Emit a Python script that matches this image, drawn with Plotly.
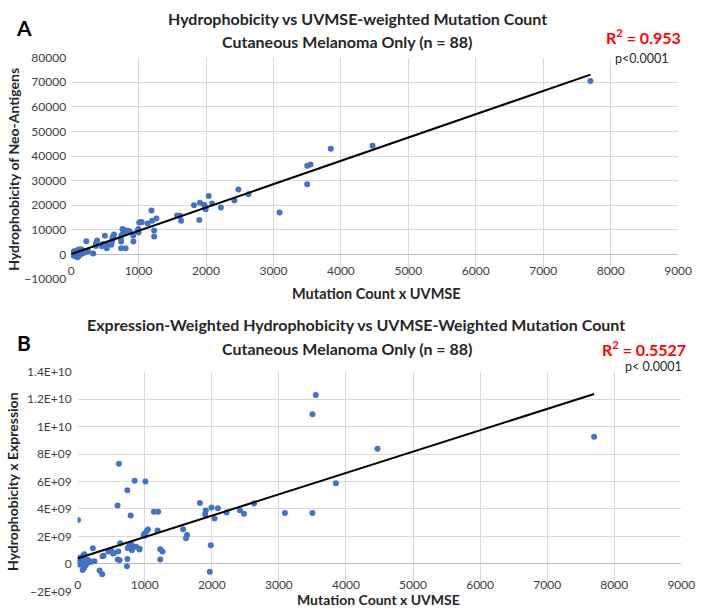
import numpy as np
import plotly.graph_objects as go

# ---------------- data ----------------
mut_uvmse = [
    7700, 4470, 3850, 3550, 3500, 3500, 3090, 2630, 2480, 2420, 2220, 2090, 2040,
    1995, 1985, 1970, 1910, 1900, 1822,
    1630, 1615, 1572, 1264, 1231, 1231, 1192, 1200, 1135, 1048, 1030, 1010, 995, 1000, 985,
    920, 923, 870, 849, 803, 800, 790, 760, 808, 741, 741, 735, 745, 770,
    635, 615, 606, 595, 598, 624, 529, 540, 500, 457, 470, 385, 370, 366, 327, 226, 250,
    5, 10, 20, 30, 35, 45, 50, 60, 65, 75, 80, 90, 95, 100, 110, 115, 120, 130, 140, 150, 160, 175, 200,
]
hydrophobicity = [
    70500, 44200, 43000, 36600, 36000, 28500, 17100, 24500, 26400, 21900, 19100, 20700, 23800,
    18400, 19600, 20200, 21000, 14000, 20000,
    13700, 15700, 15800, 14600, 9700, 7300, 17900, 13700, 12600, 13100, 13200, 13000, 10400, 8900, 9500,
    7700, 5300, 9300, 9600, 9600, 8800, 10000, 10400, 2500, 2500, 5300, 6300, 7700, 8500,
    8100, 7000, 5600, 4000, 4600, 6500, 2500, 4500, 7600, 3300, 4300, 5700, 4600, 3500, 400, 5400, 1300,
    300, 700, -200, 0, 500, 1300, -600, 300, 900, -800, 1500, 200, -1100, 700, 2000, 400, -500, 1600, 1000, 2100, 300, 1200, 800,
]
hydro_x_expression = [
    9.25e9, 8.39e9, 5.87e9, 12.3e9, 10.9e9, 3.7e9, 3.7e9, 4.4e9, 3.65e9, 3.9e9, 3.75e9, 4.05e9, 3.3e9,
    4.1e9, 1.36e9, -0.57e9, 3.88e9, 3.62e9, 4.43e9,
    2.1e9, 1.86e9, 2.52e9, 0.9e9, 1.07e9, 0.33e9, 2.43e9, 3.8e9, 3.8e9, 2.5e9, 2.4e9, 6.0e9, 2.2e9, 2.05e9, 2.1e9,
    1.05e9, 1.1e9, 1.25e9, 6.05e9, 1.4e9, 1.1e9, 3.52e9, 1.2e9, 1.0e9, 0.36e9, 5.36e9, -0.17e9, 1.15e9, 1.3e9,
    1.5e9, 7.3e9, 0.9e9, 4.26e9, 0.33e9, 0.26e9, 0.75e9, 0.8e9, 0.95e9, 0.9e9, 0.95e9, 0.6e9, 0.55e9, -0.76e9, -0.48e9, 1.14e9, 0.2e9,
    3.2e9, 0.1e9, 0.3e9, -0.05e9, 0.45e9, 0.2e9, 0.0, 0.15e9, 0.35e9, -0.45e9, 0.6e9, 0.1e9, -0.3e9, 0.7e9, 0.25e9, 0.05e9, -0.1e9, 0.2e9, 0.15e9, 0.3e9, 0.1e9, 0.2e9, 0.15e9,
]

titles_a = ["Hydrophobicity vs UVMSE-weighted Mutation Count", "Cutaneous Melanoma Only (n = 88)"]
titles_b = ["Expression-Weighted Hydrophobicity vs UVMSE-Weighted Mutation Count", "Cutaneous Melanoma Only (n = 88)"]
r2_a, p_a = "R<sup>2</sup> = 0.953", "p<0.0001"
r2_b, p_b = "R<sup>2</sup> = 0.5527", "p< 0.0001"
x_title = "Mutation Count x UVMSE"
y_title_a = "Hydrophobicity of Neo-Antigens"
y_title_b = "Hydrophobicity x Expression"
b_tickvals = [-2e9, 0, 2e9, 4e9, 6e9, 8e9, 1e10, 1.2e10, 1.4e10]
b_ticktext = ["\u22122E+09", "0", "2E+09", "4E+09", "6E+09", "8E+09", "1E+10", "1.2E+10", "1.4E+10"]

# ---------------- figure ----------------
W, H = 709, 614
FONT = "Lato"
BLUE = "#4472C4"
GRID = "#d9d9d9"


def pxx(x):
    return x / W


def pxy(y):
    return 1 - y / H


x = np.array(mut_uvmse, dtype=float)
ya = np.array(hydrophobicity, dtype=float)
yb = np.array(hydro_x_expression, dtype=float)

fig = go.Figure()
fig.add_trace(go.Scatter(x=x, y=ya, mode="markers", xaxis="x", yaxis="y",
                         marker=dict(color=BLUE, size=6), showlegend=False))
fig.add_trace(go.Scatter(x=x, y=yb, mode="markers", xaxis="x2", yaxis="y2",
                         marker=dict(color=BLUE, size=6), showlegend=False))

# linear trendlines fitted to the data
for yy, xa, ya_ in [(ya, "x", "y"), (yb, "x2", "y2")]:
    m, c = np.polyfit(x, yy, 1)
    xs = np.array([x.min(), x.max()])
    fig.add_trace(go.Scatter(x=xs, y=m * xs + c, mode="lines", xaxis=xa, yaxis=ya_,
                             line=dict(color="black", width=2), showlegend=False))

tickfont = dict(family=FONT, size=12, color="#404040")
common_x = dict(range=[0, 9000], dtick=1000, showgrid=True, gridcolor=GRID, gridwidth=1,
                zeroline=False, showline=False, ticks="", tickfont=tickfont,
                ticklabelposition="outside", fixedrange=True)
fig.update_layout(
    width=W, height=H,
    margin=dict(l=0, r=0, t=0, b=0),
    paper_bgcolor="white", plot_bgcolor="white",
    font=dict(family=FONT),
    xaxis=dict(domain=[pxx(69.8), pxx(691.7)], anchor="y", ticklabelstandoff=-17, **common_x),
    yaxis=dict(domain=[pxy(277.9), pxy(50.8)], anchor="x", range=[-10000, 80000], dtick=10000,
               tickformat="d", showgrid=True, gridcolor=GRID, zeroline=True,
               zerolinecolor="#bfbfbf", zerolinewidth=1, ticks="", tickfont=tickfont,
               ticklabelstandoff=4),
    xaxis2=dict(domain=[pxx(76.5), pxx(695)], anchor="y2", ticklabelstandoff=-15, **common_x),
    yaxis2=dict(domain=[pxy(598), pxy(372.7)], anchor="x2", range=[-2e9, 1.4e10],
                tickvals=b_tickvals, ticktext=b_ticktext, showgrid=True, gridcolor=GRID,
                zeroline=True, zerolinecolor="#bfbfbf", zerolinewidth=1, ticks="",
                tickfont=tickfont, ticklabelstandoff=5),
)


def ann(text, x, y, size, bold=False, color="#262626", angle=0):
    if bold:
        text = "<b>" + text + "</b>"
    fig.add_annotation(text=text, x=pxx(x), y=pxy(y), xref="paper", yref="paper",
                       xanchor="center", yanchor="middle", showarrow=False, textangle=angle,
                       font=dict(family=FONT, size=size, color=color))


ann("A", 22, 20, 21, bold=True, color="black")
ann(titles_a[0], 363.5, 11, 16, bold=True)
ann(titles_a[1], 353, 34, 16, bold=True)
ann(r2_a, 656, 29, 16, bold=True, color="#ff0000")
ann(p_a, 654, 52, 12.5, color="#262626")
ann(x_title, 383, 293, 14.5, bold=True)
ann(y_title_a, 11, 165, 14, bold=True, angle=-90)

ann("B", 22, 343, 21, bold=True, color="black")
ann(titles_b[0], 362, 324, 16, bold=True)
ann(titles_b[1], 353, 349, 16, bold=True)
ann(r2_b, 657, 349, 16, bold=True, color="#ff0000")
ann(p_b, 666, 367, 12.5, color="#262626")
ann(x_title, 385, 606.5, 14, bold=True)
ann(y_title_b, 9, 485, 14, bold=True, angle=-90)

fig.write_html("out.html", config={"displayModeBar": False},
               post_script="document.body.style.margin='0';document.body.style.overflow='hidden';")
